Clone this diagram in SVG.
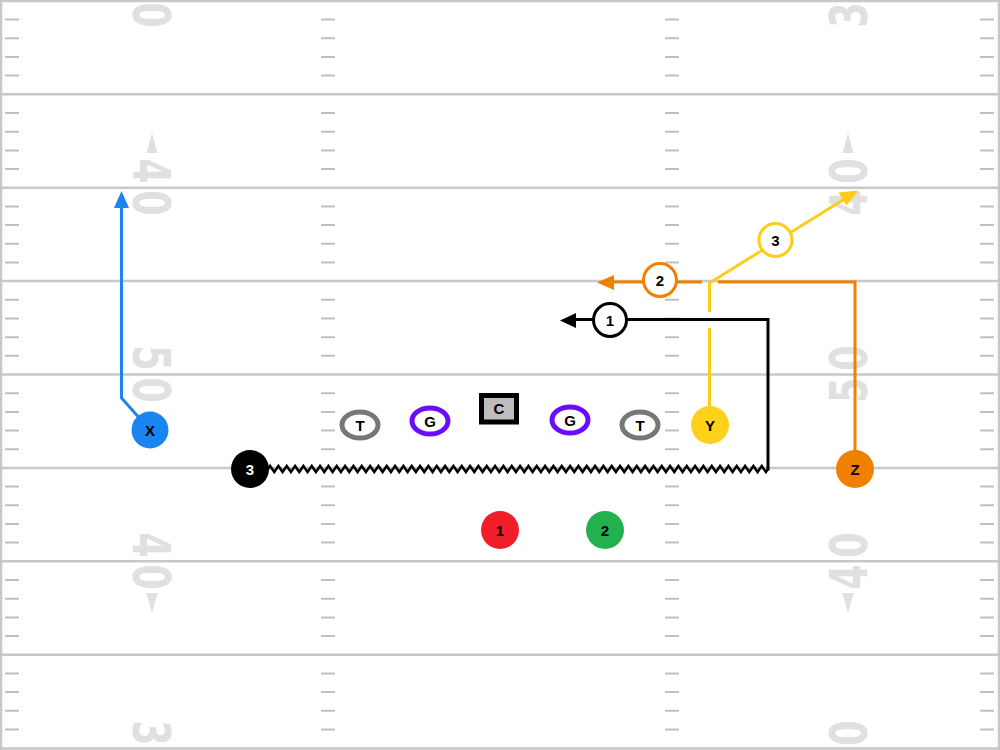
<svg xmlns="http://www.w3.org/2000/svg" xmlns:xlink="http://www.w3.org/1999/xlink" width="1000" height="750" viewBox="0 0 1000 750">
<style>
.yl{stroke:#c8c8c8;stroke-width:2.5;fill:none}
.hm{stroke:#c0c0c0;stroke-width:2;fill:none}
.num{fill:#e0e0e0;font-family:"DejaVu Sans Condensed","DejaVu Sans",sans-serif;font-weight:bold;font-size:52px;text-anchor:middle}
.tri{fill:#e0e0e0}
.lbl{font-family:"Liberation Sans",Arial,sans-serif;font-weight:bold;font-size:15px;text-anchor:middle}
.rt{fill:none;stroke-width:3;stroke-linejoin:miter}
.zz{fill:none;stroke:#000;stroke-width:2.5}
</style>
<defs>
<path id="hc" class="hm" d="M0 19.6h14M0 38.3h14M0 57h14M0 75.6h14M0 113h14M0 131.7h14M0 150.4h14M0 169h14M0 206.4h14M0 225.1h14M0 243.8h14M0 262.4h14M0 299.8h14M0 318.5h14M0 337.2h14M0 355.8h14M0 393.2h14M0 411.9h14M0 430.6h14M0 449.2h14M0 486.6h14M0 505.3h14M0 524h14M0 542.6h14M0 580h14M0 598.7h14M0 617.4h14M0 636h14M0 673.4h14M0 692.1h14M0 710.8h14M0 729.4h14"/>
<path id="zu" class="zz" d="M0 0l2.0833-3 4.1667 6 4.1667-6 4.1667 6 4.1667-6 4.1667 6 4.1667-6 4.1667 6 4.1667-6 4.1667 6 4.1667-6 4.1667 6 4.1667-6 4.1667 6 4.1667-6 4.1667 6 4.1667-6 4.1667 6 4.1667-6 4.1667 6 2.0833-3"/>
</defs>
<rect x="0" y="0" width="1000" height="750" fill="#ffffff"/>
<g id="field">
<use xlink:href="#hc" x="5"/>
<use xlink:href="#hc" x="321"/>
<use xlink:href="#hc" x="665"/>
<use xlink:href="#hc" x="980"/>
<path class="yl" d="M0 1H1000M0 94.3H1000M0 187.7H1000M0 281.1H1000M0 374.5H1000M0 467.9H1000M0 561.3H1000M0 654.7H1000M0 748.5H1000M1 0V750M999 0V750"/>
<g class="num">
<text transform="translate(152,15) rotate(90) scale(0.78,1)" y="19">0</text>
<text transform="translate(152,171) rotate(90) scale(0.78,1)" y="19">4</text>
<text transform="translate(152,203) rotate(90) scale(0.78,1)" y="19">0</text>
<text transform="translate(152,358) rotate(90) scale(0.78,1)" y="19">5</text>
<text transform="translate(152,390) rotate(90) scale(0.78,1)" y="19">0</text>
<text transform="translate(152,545) rotate(90) scale(0.78,1)" y="19">4</text>
<text transform="translate(152,577) rotate(90) scale(0.78,1)" y="19">0</text>
<text transform="translate(152,733) rotate(90) scale(0.78,1)" y="19">3</text>
<text transform="translate(848,15) rotate(-90) scale(0.78,1)" y="19">3</text>
<text transform="translate(848,171) rotate(-90) scale(0.78,1)" y="19">0</text>
<text transform="translate(848,203) rotate(-90) scale(0.78,1)" y="19">4</text>
<text transform="translate(848,358) rotate(-90) scale(0.78,1)" y="19">0</text>
<text transform="translate(848,390) rotate(-90) scale(0.78,1)" y="19">5</text>
<text transform="translate(848,545) rotate(-90) scale(0.78,1)" y="19">0</text>
<text transform="translate(848,577) rotate(-90) scale(0.78,1)" y="19">4</text>
<text transform="translate(848,733) rotate(-90) scale(0.78,1)" y="19">0</text>
</g>
<polygon class="tri" points="152,133 146.5,153 157.5,153"/>
<polygon class="tri" points="152,613 146.5,593 157.5,593"/>
<polygon class="tri" points="848,133 842.5,153 853.5,153"/>
<polygon class="tri" points="848,613 842.5,593 853.5,593"/>
</g>
<g id="connectors">
<path class="rt" stroke="#1a84f0" d="M150 430L121.5 398V206"/>
<polygon fill="#1a84f0" points="121.5,191 114,208 129,208"/>
<g id="motion3">
<use xlink:href="#zu" x="268" y="469"/>
<use xlink:href="#zu" x="351.333" y="469"/>
<use xlink:href="#zu" x="434.667" y="469"/>
<use xlink:href="#zu" x="518" y="469"/>
<use xlink:href="#zu" x="601.333" y="469"/>
<use xlink:href="#zu" x="684.667" y="469"/>
</g>
<path class="rt" stroke="#000" d="M768 470.5V319.5H575"/>
<polygon fill="#000" points="560,320.5 576,313 576,328"/>
<path class="rt" stroke="#f08000" d="M855 469V282H718M702 282H612"/>
<polygon fill="#f08000" points="597,282.5 614,275 614,290"/>
<path class="rt" stroke="#ffcc1a" d="M709.5 425V328M709.5 312V283L846 198"/>
<polygon fill="#ffcc1a" points="858.5,190.5 838.5,192.5 846.5,205.5"/>
</g>
<g id="n-read1"><circle cx="610" cy="320" r="16.5" fill="#fff" stroke="#000" stroke-width="3"/><text class="lbl" x="610" y="325.5">1</text></g>
<g id="n-read2"><circle cx="660" cy="280" r="16.5" fill="#fff" stroke="#f08000" stroke-width="3"/><text class="lbl" x="660" y="285.5">2</text></g>
<g id="n-read3"><circle cx="775.5" cy="240" r="16.5" fill="#fff" stroke="#ffcc1a" stroke-width="3"/><text class="lbl" x="775.5" y="245.5">3</text></g>
<g id="n-X"><circle cx="150" cy="430" r="18.5" fill="#1a84f0"/><text class="lbl" x="150" y="435.5">X</text></g>
<g id="n-3"><circle cx="250" cy="469" r="19" fill="#000"/><text class="lbl" x="250" y="474.5" fill="#fff">3</text></g>
<g id="n-TL"><ellipse cx="360" cy="425" rx="18" ry="13" fill="#fff" stroke="#777" stroke-width="5"/><text class="lbl" x="360" y="430.5">T</text></g>
<g id="n-GL"><ellipse cx="430" cy="421" rx="18" ry="13" fill="#fff" stroke="#6a0cff" stroke-width="5"/><text class="lbl" x="430" y="426.5">G</text></g>
<g id="n-C"><rect x="481.5" y="395.5" width="35" height="26.5" fill="#bdbdbd" stroke="#000" stroke-width="5"/><text class="lbl" x="499" y="414">C</text></g>
<g id="n-GR"><ellipse cx="570" cy="420" rx="18" ry="13" fill="#fff" stroke="#6a0cff" stroke-width="5"/><text class="lbl" x="570" y="425.5">G</text></g>
<g id="n-TR"><ellipse cx="640" cy="425" rx="18" ry="13" fill="#fff" stroke="#777" stroke-width="5"/><text class="lbl" x="640" y="430.5">T</text></g>
<g id="n-Y"><circle cx="710" cy="425" r="19" fill="#ffd11a"/><text class="lbl" x="710" y="430.5">Y</text></g>
<g id="n-Z"><circle cx="855" cy="469" r="19" fill="#f08000"/><text class="lbl" x="855" y="474.5">Z</text></g>
<g id="n-1"><circle cx="500" cy="530" r="19" fill="#f01e28"/><text class="lbl" x="500" y="535.5">1</text></g>
<g id="n-2"><circle cx="605" cy="530" r="19" fill="#22b14c"/><text class="lbl" x="605" y="535.5">2</text></g>
</svg>
